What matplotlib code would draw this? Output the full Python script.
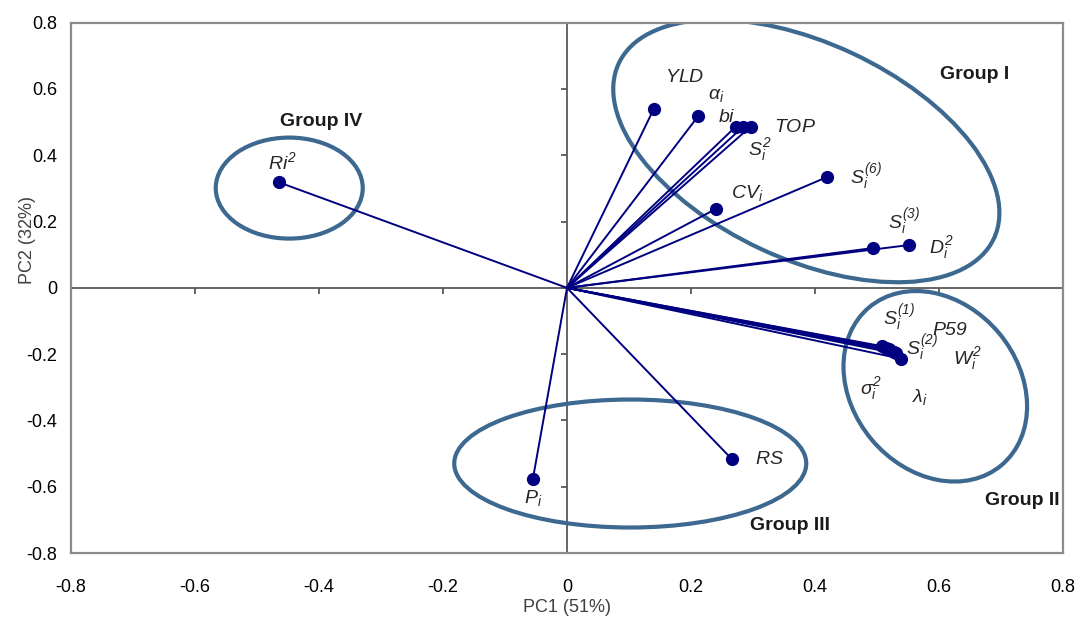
"""PCA biplot of stability parameters: PC1 vs PC2 loadings with group ellipses."""
import numpy as np
import matplotlib
matplotlib.use("Agg")
import matplotlib.pyplot as plt
from matplotlib.patches import Ellipse
from matplotlib.transforms import ScaledTranslation

plt.rcParams["font.family"] = ["Liberation Sans", "DejaVu Sans"]
plt.rcParams["mathtext.fontset"] = "custom"
plt.rcParams["mathtext.rm"] = "Liberation Sans:italic"   # labels are all italic
plt.rcParams["mathtext.it"] = "Liberation Sans:italic"
plt.rcParams["mathtext.bf"] = "Liberation Sans:bold"

# loadings
labels = ["$YLD$", r"$\alpha_i$", "$bi$", "$TOP$", "$S_i^2$", "$S_i^{(6)}$", "$CV_i$",
          "$S_i^{(3)}$", "$D_i^2$", "$S_i^{(1)}$", "P59", "$S_i^{(2)}$", "$W_i^2$",
          r"$\sigma_i^2$", r"$\lambda_i$", "$Ri^2$", "$P_i$", "$RS$"]
pc1 = [0.140, 0.212, 0.272, 0.296, 0.284, 0.419, 0.240, 0.493, 0.551,
       0.508, 0.514, 0.520, 0.527, 0.531, 0.539, -0.464, -0.055, 0.266]
pc2 = [0.540, 0.519, 0.486, 0.486, 0.486, 0.334, 0.238, 0.120, 0.129,
       -0.176, -0.180, -0.186, -0.193, -0.198, -0.214, 0.318, -0.576, -0.517]
# where each label is written (data coords)
label_x = [0.189, 0.241, 0.257, 0.367, 0.311, 0.483, 0.290, 0.544, 0.604,
           0.536, 0.618, 0.572, 0.646, 0.491, 0.569, -0.459, -0.055, 0.327]
label_y = [0.636, 0.581, 0.515, 0.483, 0.416, 0.334, 0.286, 0.199, 0.123,
           -0.092, -0.128, -0.182, -0.212, -0.303, -0.330, 0.379, -0.633, -0.517]

groups = ["Group I", "Group II", "Group III", "Group IV"]
group_x = [0.657, 0.735, 0.359, -0.396]
group_y = [0.645, -0.642, -0.717, 0.503]
# ellipse centre (data), width/height (px), angle (deg)
ell_cx = [0.386, 0.594, 0.102, -0.448]
ell_cy = [0.413, -0.297, -0.530, 0.301]
ell_w = [414, 206, 352, 147]
ell_h = [216, 166, 128, 101]
ell_ang = [-25, -50, 0, 0]

ticks = np.round(np.arange(-0.8, 0.81, 0.2), 1)
tick_labels = ["-0.8", "-0.6", "-0.4", "-0.2", "0", "0.2", "0.4", "0.6", "0.8"]

navy = "#000080"
axis_grey = "#595959"

fig = plt.figure(figsize=(10.83, 6.23), dpi=100)
ax = fig.add_axes([71/1083, 70/623, 992/1083, 530.3/623])
ax.set_xlim(-0.8, 0.8)
ax.set_ylim(-0.8, 0.8)
ax.set_xticks(ticks)
ax.set_xticklabels(tick_labels)
ax.set_yticks(ticks)
ax.set_yticklabels(tick_labels)
ax.tick_params(axis="x", length=0, labelsize=13, pad=19)
ax.tick_params(axis="y", length=0, labelsize=13, pad=10)
for s in ax.spines.values():
    s.set_color("#8c8c8c")
    s.set_linewidth(1.6)

# axes crossing at zero, with their own tick marks
ax.axhline(0, color=axis_grey, lw=1.3, zorder=1)
ax.axvline(0, color=axis_grey, lw=1.3, zorder=1)
ax.plot(ticks, np.zeros_like(ticks), ls="none", marker=3, ms=4, mew=1.3,
        color=axis_grey, clip_on=False, zorder=1)
ax.plot(np.zeros_like(ticks), ticks, ls="none", marker=0, ms=4, mew=1.3,
        color=axis_grey, clip_on=False, zorder=1)

# loading vectors
for x, y in zip(pc1, pc2):
    ax.plot([0, x], [0, y], color=navy, lw=1.4, zorder=3)
ax.plot(pc1, pc2, "o", color=navy, ms=8.5, zorder=4)

for lab, tx, ty in zip(labels, label_x, label_y):
    ax.text(tx, ty, lab, fontsize=14, style="italic", color="#262626",
            ha="center", va="center", zorder=5)

# group ellipses, sized in pixels so they keep their shape
for cx, cy, w, h, a in zip(ell_cx, ell_cy, ell_w, ell_h, ell_ang):
    tr = fig.dpi_scale_trans + ScaledTranslation(cx, cy, ax.transData)
    ax.add_patch(Ellipse((0, 0), w/100, h/100, angle=a, transform=tr,
                         fill=False, ec="#3d6890", lw=3, zorder=2))

for g, gx, gy in zip(groups, group_x, group_y):
    ax.text(gx, gy, g, fontsize=14, fontweight="bold", color="#1a1a1a",
            ha="center", va="center", zorder=5)

fig.text(567/1083, 1 - 608/623, "PC1 (51%)", fontsize=13, color="#404040",
         ha="center", va="center")
fig.text(28/1083, 1 - 240/623, "PC2 (32%)", fontsize=13, color="#404040",
         ha="center", va="center", rotation=90)

fig.savefig("out.png", dpi=100)
